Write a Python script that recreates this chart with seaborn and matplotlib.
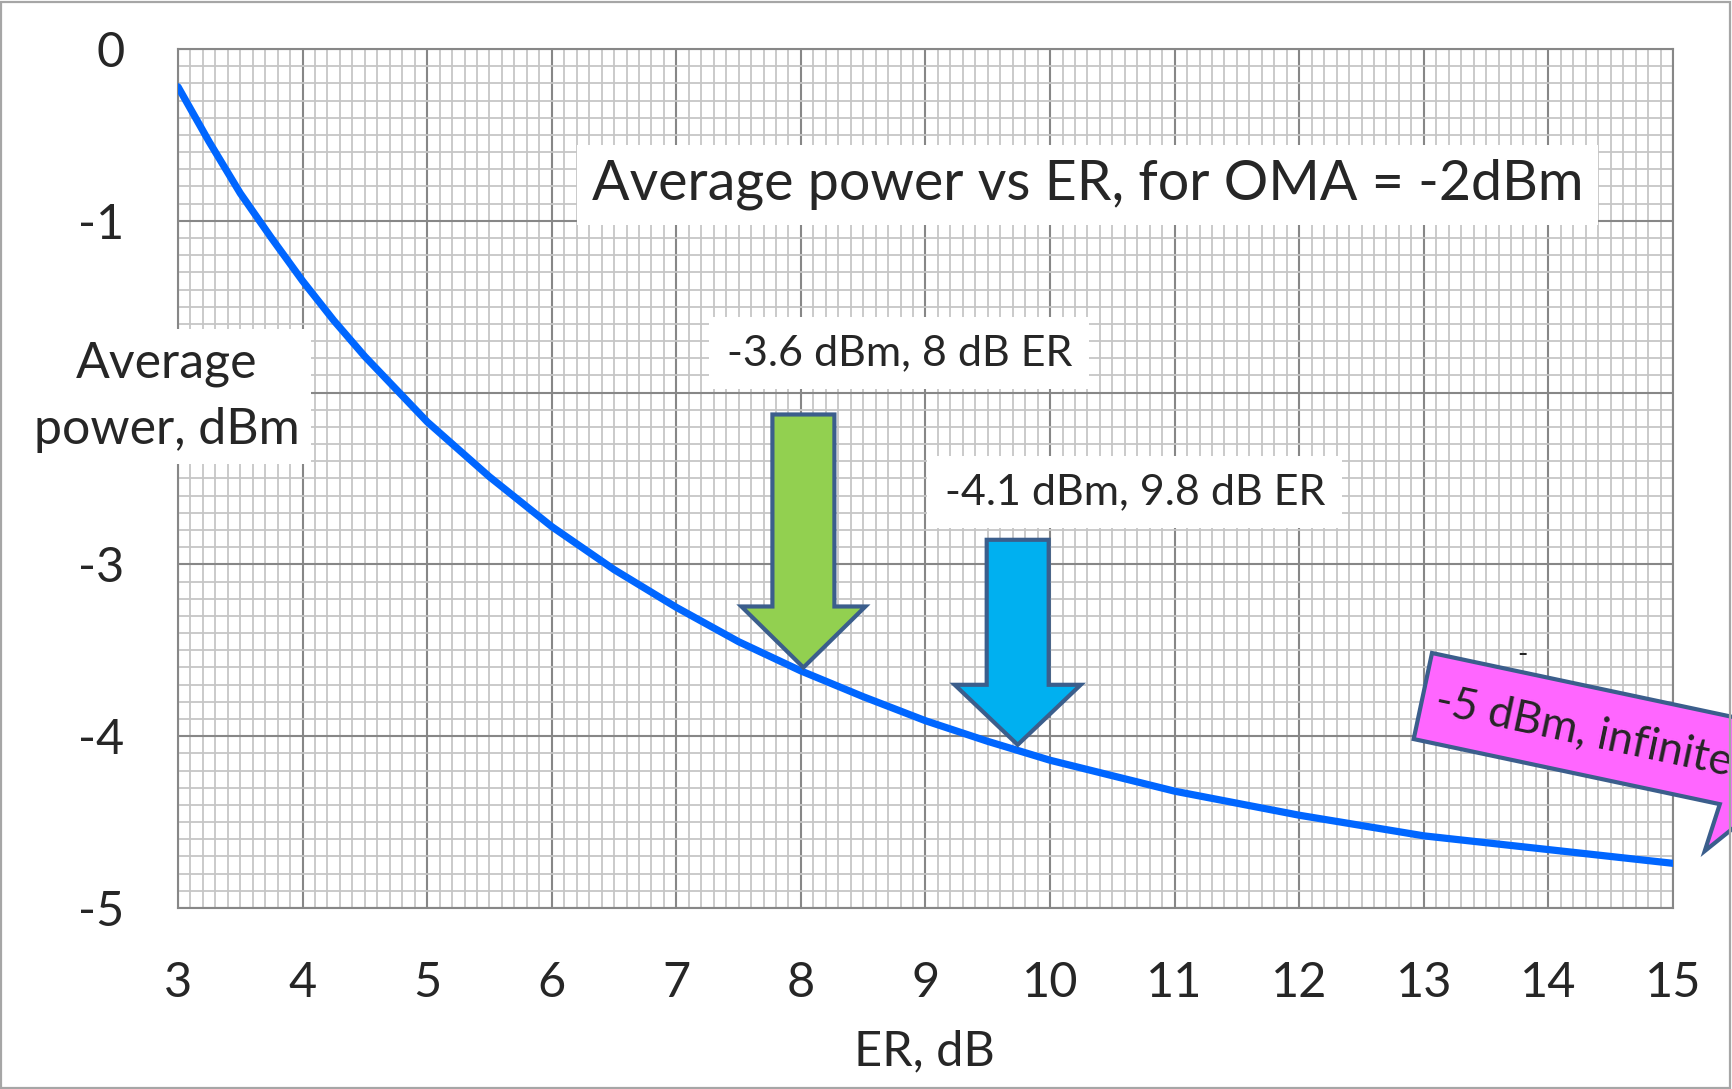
"""Average optical power vs extinction ratio for a fixed OMA of -2 dBm."""
import matplotlib
matplotlib.use('Agg')
import matplotlib.pyplot as plt
import seaborn as sns
import pandas as pd
from matplotlib.patches import Polygon, Rectangle
from matplotlib.ticker import MultipleLocator
from matplotlib.transforms import IdentityTransform

# %%
# values
er_db = [3, 3.25, 3.5, 3.75, 4, 4.25, 4.5, 4.75, 5, 5.5, 6, 6.5, 7, 7.5, 8, 8.5, 9, 9.5,
         10, 10.5, 11, 11.5, 12, 12.5, 13, 13.5, 14, 14.5, 15]
avg_power_dbm = [-0.22, -0.54, -0.84, -1.10, -1.35, -1.58, -1.79, -1.98, -2.17, -2.49,
                 -2.78, -3.03, -3.25, -3.45, -3.62, -3.77, -3.91, -4.03, -4.14, -4.23,
                 -4.32, -4.39, -4.46, -4.52, -4.58, -4.62, -4.66, -4.70, -4.74]
x_ticks = list(range(3, 16))
y_ticks = [0, -1, -2, -3, -4, -5]
y_tick_labels = ['0', '-1', '', '-3', '-4', '-5']  # -2 sits under the axis label box

title = 'Average power vs ER, for OMA = -2dBm'
note_8db = '-3.6 dBm, 8 dB ER'
note_98db = '-4.1 dBm, 9.8 dB ER'
note_inf = '-5 dBm, infinite'

df = pd.DataFrame({'ER': er_db, 'Pavg': avg_power_dbm})

# %%
W, H = 1732, 1089
sns.set_style('white')
plt.rcParams['font.family'] = ['Lato', 'DejaVu Sans']

fig = plt.figure(figsize=(W / 100, H / 100), dpi=100)
ax = fig.add_axes([178 / W, 1 - 908 / H, (1673 - 178) / W, (908 - 49) / H])

sns.lineplot(data=df, x='ER', y='Pavg', ax=ax, color='#0066FF', lw=5.2, zorder=3)

ax.set_xlim(3, 15)
ax.set_ylim(-5, 0)
ax.set_xticks(x_ticks)
ax.set_yticks(y_ticks)
ax.set_yticklabels(y_tick_labels)
ax.xaxis.set_minor_locator(MultipleLocator(0.1))
ax.yaxis.set_minor_locator(MultipleLocator(0.1))
ax.set_axisbelow(True)
ax.grid(which='minor', color='#C6C6C6', lw=1.3)
ax.grid(which='major', color='#878787', lw=1.5)
ax.tick_params(which='major', direction='out', length=14.4, width=1.5, color='#878787',
               labelsize=35, pad=24)
ax.tick_params(which='minor', length=0)
for s in ax.spines.values():
    s.set_color('#878787')
    s.set_linewidth(1.5)
ax.set_xlabel('')
ax.set_ylabel('')

# %%
# labels and text boxes
fig.text(924 / W, 1 - 1051 / H, 'ER, dB', ha='center', va='center', fontsize=35)
fig.text(167 / W, 1 - 397 / H, 'Average\npower, dBm', ha='center', va='center',
         fontsize=36, linespacing=1.55,
         bbox=dict(facecolor='white', edgecolor='none', boxstyle='square,pad=0.22'))

box = dict(facecolor='white', edgecolor='none', boxstyle='square,pad=0.26')
ax.text(10.30, -0.79, title, ha='center', va='center', fontsize=40, bbox=box, zorder=4)
box2 = dict(facecolor='white', edgecolor='none', boxstyle='square,pad=0.4')
ax.text(8.79, -1.77, note_8db, ha='center', va='center', fontsize=31, bbox=box2, zorder=4)
ax.text(10.68, -2.58, note_98db, ha='center', va='center', fontsize=31, bbox=box2, zorder=4)


# %%
# down arrows pointing at the curve
def down_arrow(tip, head_half, shaft_half, head_len, total_len, color):
    tx, ty = ax.transData.transform(tip)
    pts = [(tx, ty), (tx - head_half, ty + head_len), (tx - shaft_half, ty + head_len),
           (tx - shaft_half, ty + total_len), (tx + shaft_half, ty + total_len),
           (tx + shaft_half, ty + head_len), (tx + head_half, ty + head_len)]
    fig.add_artist(Polygon(pts, closed=True, transform=IdentityTransform(),
                           facecolor=color, edgecolor='#3B5E8C', lw=3,
                           joinstyle='miter', zorder=5))


down_arrow((8.02, -3.60), 62, 31, 61, 253, '#92D050')
down_arrow((9.74, -4.05), 63, 31, 60, 205, '#00B0F0')

# %%
# magenta callout, tilted, running off the right edge
cos_t, sin_t = 0.978, 0.208
ox, oy = 1432, 653


def local(u, v):
    x = ox + u * cos_t - v * sin_t
    y = oy + u * sin_t + v * cos_t
    return (x, H - y)


callout = [local(0, 0), local(460, 0), local(460, 88), local(348, 88),
           local(308, 137), local(313, 88), local(0, 88)]
fig.add_artist(Polygon(callout, closed=True, transform=IdentityTransform(),
                       facecolor='#FF66FF', edgecolor='#3B5E8C', lw=3,
                       joinstyle='miter', zorder=6))
tx, ty = local(14, 46)
fig.text(tx / W, ty / H, note_inf, ha='left', va='center', fontsize=32,
         rotation=-12, rotation_mode='anchor', zorder=7)
fig.text(1522 / W, 1 - 655 / H, '-', ha='center', va='center', fontsize=20, zorder=7)

# frame round the whole picture
fig.add_artist(Rectangle((1, 1), W - 3, H - 3, transform=IdentityTransform(),
                         fill=False, edgecolor='#A6A6A6', lw=1.6, zorder=10))

plt.savefig('out.png', dpi=100)
